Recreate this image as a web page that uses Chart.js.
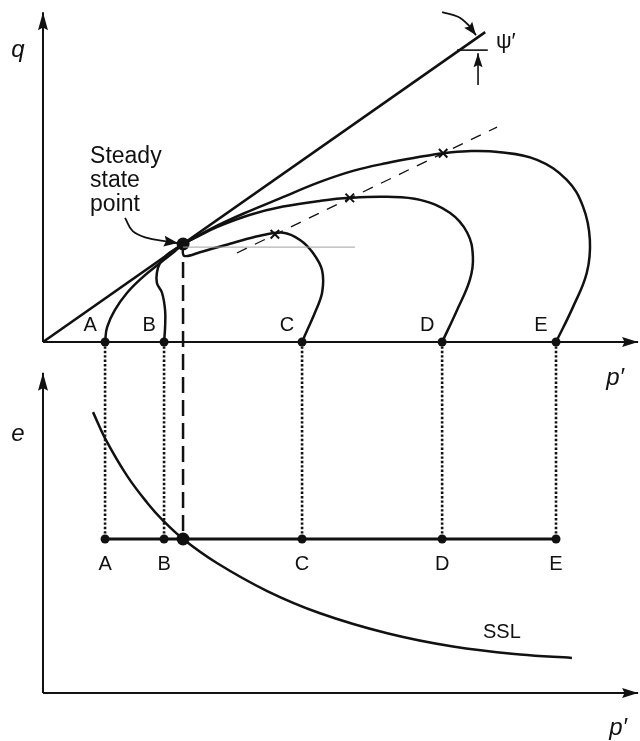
<!DOCTYPE html>
<html>
<head>
<meta charset="utf-8">
<script src="https://cdn.jsdelivr.net/npm/chart.js@4/dist/chart.umd.min.js"></script>
<style>
  html, body { margin: 0; padding: 0; background: #fff; }
  canvas { display: block; }
</style>
</head>
<body>
<canvas id="diagram" width="640" height="741"></canvas>
<script>
// Исходные состояния A–E на оси p'
const startLabels = ['A', 'B', 'C', 'D', 'E'];
const startP = [1.21, 2.36, 5.05, 7.78, 10.0];

// Точка установившегося состояния
const steadyP = 2.73;
const steadyQ = 1.91;

// Коэффициент пористости для всех начальных состояний
const eLevel = 0.9;

// Оси
const qAxisTop = 6.43;
const pAxisEnd = 11.6;
const eAxisBase = 0.4;
const eAxisTop = 1.44;

// Линия критического состояния (q–p')
const cslLine = [[0, 0], [8.62, 6.04]];

// Пути нагружения
const pathA = [[1.21, 0], [1.25, 0.29], [1.40, 0.62], [1.64, 0.96], [1.95, 1.27], [2.28, 1.54], [2.57, 1.77], [2.73, 1.91]];
const pathB = [[2.36, 0], [2.38, 0.29], [2.38, 0.62], [2.32, 0.96], [2.22, 1.15], [2.22, 1.35], [2.28, 1.54], [2.42, 1.70], [2.61, 1.83], [2.73, 1.91]];
const pathC = [[5.05, 0], [5.15, 0.23], [5.30, 0.57], [5.44, 0.96], [5.44, 1.40], [5.26, 1.74], [5.01, 1.99], [4.68, 2.13], [4.23, 2.07], [3.70, 1.93], [3.06, 1.75], [2.75, 1.68], [2.73, 1.91]];
const pathD = [[7.78, 0], [8.07, 0.62], [8.32, 1.21], [8.38, 1.66], [8.27, 2.13], [7.93, 2.52], [7.35, 2.77], [6.71, 2.83], [5.98, 2.81], [5.40, 2.75], [4.68, 2.64], [4.04, 2.48], [3.39, 2.24], [2.96, 2.03], [2.73, 1.91]];
const pathE = [[10.0, 0], [10.33, 0.68], [10.60, 1.35], [10.66, 1.99], [10.53, 2.63], [10.21, 3.16], [9.63, 3.55], [8.91, 3.70], [8.27, 3.72], [7.80, 3.68], [7.30, 3.60], [6.71, 3.49], [6.06, 3.34], [5.40, 3.12], [4.62, 2.80], [3.90, 2.50], [3.30, 2.22], [2.73, 1.91]];

// Пиковые точки (×) и линия через них
const peakP = [4.52, 5.98, 7.80];
const peakQ = [2.10, 2.81, 3.68];
const peakLine = [[3.78, 1.735], [8.85, 4.19]];

// Тонкая горизонталь от точки установившегося состояния
const steadyLevel = [[2.73, 1.85], [6.08, 1.85]];

// Выноска "Steady state point"
const steadyPointer = [[1.60, 2.42], [1.75, 2.16], [2.03, 2.03], [2.34, 1.97], [2.63, 1.93]];

// Обозначение угла ψ'
const psiPointer = [[7.78, 6.43], [8.09, 6.34], [8.29, 6.18], [8.44, 5.98]];
const psiLevel = [[8.07, 5.69], [8.67, 5.69]];
const psiArrow = [[8.48, 5.01], [8.48, 5.63]];

// Линия установившегося состояния (e–p')
const sslCurve = [[0.975, 1.312], [1.21, 1.227], [1.64, 1.105], [2.03, 1.018], [2.34, 0.960], [2.73, 0.9], [3.39, 0.822], [4.37, 0.731], [5.40, 0.659], [6.71, 0.594], [7.99, 0.551], [9.30, 0.525], [10.31, 0.514]];

const INK = '#111';
const FONT = '"Liberation Sans", Arial, sans-serif';

function pts(arr) {
    return arr.map(([x, y]) => ({ x, y }));
}

function lineSet(arr, axis, extra) {
    return Object.assign({
        data: pts(arr),
        yAxisID: axis,
        showLine: true,
        borderColor: INK,
        borderWidth: 2.5,
        pointRadius: 0,
        tension: 0,
        fill: false,
        clip: false
    }, extra || {});
}

function dotSet(xs, ys, axis, radius) {
    return {
        data: xs.map((x, i) => ({ x, y: ys[i] })),
        yAxisID: axis,
        showLine: false,
        pointRadius: radius,
        pointBackgroundColor: INK,
        pointBorderColor: INK,
        borderWidth: 0,
        clip: false
    };
}

function drawArrowHead(ctx, tipX, tipY, fromX, fromY, len, half) {
    const ang = Math.atan2(tipY - fromY, tipX - fromX);
    ctx.save();
    ctx.translate(tipX, tipY);
    ctx.rotate(ang);
    ctx.fillStyle = INK;
    ctx.beginPath();
    ctx.moveTo(0, 0);
    ctx.lineTo(-len, -half);
    ctx.lineTo(-len * 0.85, 0);
    ctx.lineTo(-len, half);
    ctx.closePath();
    ctx.fill();
    ctx.restore();
}

// Стрелки на концах линий
const arrowPlugin = {
    id: 'arrowHeads',
    afterDatasetsDraw(chart) {
        const ctx = chart.ctx;
        chart.data.datasets.forEach((ds, i) => {
            if (!ds.arrowHead) return;
            const els = chart.getDatasetMeta(i).data;
            const tip = els[els.length - 1];
            let fx = els[els.length - 2].x;
            let fy = els[els.length - 2].y;
            if (tip.cp1x !== undefined && Math.hypot(tip.cp1x - tip.x, tip.cp1y - tip.y) > 1) {
                fx = tip.cp1x;
                fy = tip.cp1y;
            }
            drawArrowHead(ctx, tip.x, tip.y, fx, fy, ds.arrowHead[0], ds.arrowHead[1]);
        });
    }
};

// Проекции точек с верхней диаграммы на нижнюю
const dropPlugin = {
    id: 'dropLines',
    beforeDatasetsDraw(chart) {
        const { ctx, scales: { x, q, e } } = chart;
        ctx.save();
        ctx.strokeStyle = INK;
        ctx.lineCap = 'butt';
        ctx.lineWidth = 2.6;
        ctx.setLineDash([2.4, 2]);
        startP.forEach(p => {
            const px = x.getPixelForValue(p);
            ctx.beginPath();
            ctx.moveTo(px, q.getPixelForValue(0));
            ctx.lineTo(px, e.getPixelForValue(eLevel));
            ctx.stroke();
        });
        ctx.lineWidth = 2.5;
        ctx.setLineDash([16, 7]);
        const sx = x.getPixelForValue(steadyP);
        ctx.beginPath();
        ctx.moveTo(sx, q.getPixelForValue(steadyQ) + 18);
        ctx.lineTo(sx, e.getPixelForValue(eLevel));
        ctx.stroke();
        ctx.restore();
    }
};

// Подписи
const textPlugin = {
    id: 'labels',
    afterDraw(chart) {
        const { ctx, scales: { x, q, e } } = chart;
        ctx.save();
        ctx.fillStyle = INK;
        ctx.textAlign = 'center';
        ctx.textBaseline = 'middle';

        ctx.font = '20px ' + FONT;
        startLabels.forEach((t, i) => {
            const px = x.getPixelForValue(startP[i]);
            ctx.fillText(t, px - 15, q.getPixelForValue(0) - 17);
            ctx.fillText(t, px, e.getPixelForValue(eLevel) + 25);
        });

        const ssl = sslCurve[10];
        ctx.fillText('SSL', x.getPixelForValue(ssl[0]) + 49, e.getPixelForValue(ssl[1]) - 14);

        ctx.font = 'italic 24px ' + FONT;
        ctx.fillText('q', x.getPixelForValue(0) - 25, q.getPixelForValue(qAxisTop) + 38);
        ctx.fillText('e', x.getPixelForValue(0) - 25, e.getPixelForValue(eAxisTop) + 62);
        ctx.fillText('p′', x.getPixelForValue(pAxisEnd) - 23, q.getPixelForValue(0) + 36);
        ctx.fillText('p′', x.getPixelForValue(pAxisEnd) - 20, e.getPixelForValue(eAxisBase) + 35);

        ctx.font = '22px ' + FONT;
        ctx.fillText('ψ′', x.getPixelForValue(psiLevel[1][0]) + 18, q.getPixelForValue(psiLevel[1][1]) - 8);

        ctx.font = '23px ' + FONT;
        ctx.textAlign = 'left';
        ctx.textBaseline = 'alphabetic';
        const lx = x.getPixelForValue(steadyP) - 93;
        const ly = q.getPixelForValue(steadyQ);
        ctx.fillText('Steady', lx, ly - 81);
        ctx.fillText('state', lx, ly - 57);
        ctx.fillText('point', lx, ly - 33);
        ctx.restore();
    }
};

const datasets = [
    // оси
    lineSet([[0, 0], [0, qAxisTop]], 'q', { borderWidth: 2, arrowHead: [18, 5] }),
    lineSet([[0, 0], [pAxisEnd, 0]], 'q', { borderWidth: 2, arrowHead: [16, 5] }),
    lineSet([[0, eAxisBase], [0, eAxisTop]], 'e', { borderWidth: 2, arrowHead: [18, 5] }),
    lineSet([[0, eAxisBase], [pAxisEnd, eAxisBase]], 'e', { borderWidth: 2, arrowHead: [16, 5] }),
    // верхняя диаграмма
    lineSet(cslLine, 'q', { borderWidth: 2.6 }),
    lineSet(steadyLevel, 'q', { borderWidth: 1, borderColor: '#a0a0a0' }),
    lineSet(peakLine, 'q', { borderWidth: 1.3, borderDash: [11, 9] }),
    lineSet(pathA, 'q', { tension: 0.4 }),
    lineSet(pathB, 'q', { tension: 0.4 }),
    lineSet(pathC, 'q', { tension: 0.35 }),
    lineSet(pathD, 'q', { tension: 0.4 }),
    lineSet(pathE, 'q', { tension: 0.4 }),
    {
        data: peakP.map((p, i) => ({ x: p, y: peakQ[i] })),
        yAxisID: 'q',
        showLine: false,
        pointStyle: 'crossRot',
        pointRadius: 6,
        pointBorderColor: INK,
        pointBorderWidth: 2,
        clip: false
    },
    lineSet(steadyPointer, 'q', { borderWidth: 1.8, tension: 0.4, arrowHead: [14, 5.5] }),
    lineSet(psiPointer, 'q', { borderWidth: 1.8, tension: 0.4, arrowHead: [13, 5] }),
    lineSet(psiLevel, 'q', { borderWidth: 1.6 }),
    lineSet(psiArrow, 'q', { borderWidth: 1.6, arrowHead: [14, 4.5] }),
    dotSet(startP, startP.map(() => 0), 'q', 4.5),
    dotSet([steadyP], [steadyQ], 'q', 6.5),
    // нижняя диаграмма
    lineSet([[startP[0], eLevel], [startP[4], eLevel]], 'e', { borderWidth: 3 }),
    lineSet(sslCurve, 'e', { tension: 0.4 }),
    dotSet(startP, startP.map(() => eLevel), 'e', 4.5),
    dotSet([steadyP], [eLevel], 'e', 6.5)
];

new Chart(document.getElementById('diagram').getContext('2d'), {
    type: 'scatter',
    data: { datasets },
    options: {
        responsive: false,
        animation: false,
        devicePixelRatio: 1,
        events: [],
        layout: { padding: 0, autoPadding: false },
        plugins: {
            legend: { display: false },
            tooltip: { enabled: false }
        },
        scales: {
            x: { type: 'linear', min: -0.838, max: 11.637, display: false },
            q: { type: 'linear', position: 'left', min: -7.778, max: 6.667, display: false },
            e: { type: 'linear', position: 'left', min: 0.2442, max: 2.65, display: false }
        }
    },
    plugins: [dropPlugin, arrowPlugin, textPlugin]
});
</script>
</body>
</html>
